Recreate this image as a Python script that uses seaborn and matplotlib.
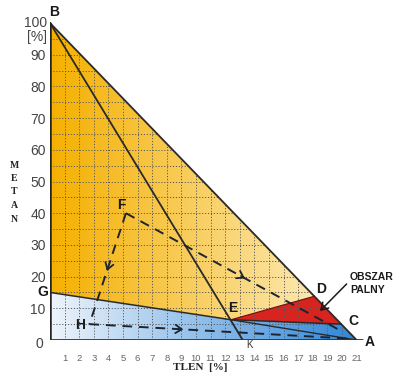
import numpy as np
import pandas as pd
import matplotlib
matplotlib.use("Agg")
import matplotlib.pyplot as plt
from matplotlib.patches import Polygon
from matplotlib.colors import LinearSegmentedColormap
import seaborn as sns

sns.set_style("white")
plt.rcParams['font.family'] = ['Liberation Sans', 'DejaVu Sans']

# ---- data (oxygen %, methane %) ----
pt_O = (0.0, 0.0)
pt_A = (21.0, 0.0)
pt_B = (0.0, 100.0)
pt_C = (19.95, 5.0)
pt_D = (18.1, 13.8)
pt_E = (12.4, 6.4)
pt_G = (0.0, 15.0)
pt_K = (13.2, 0.0)
pt_F = (5.2, 40.0)
pt_H = (2.7, 5.0)

path_FH_x = [5.2, 2.7]
path_FH_y = [40.0, 5.0]
path_H_x = [2.7, 20.6]
path_H_y = [5.0, 0.4]
path_F_x = [5.2, 19.8]
path_F_y = [40.0, 3.2]

xticks = list(range(1, 22))
yticks = [10, 20, 30, 40, 50, 60, 70, 80, 90]

W, H = 398, 377
fig = plt.figure(figsize=(W / 100, H / 100), dpi=100)
ax = fig.add_axes([50 / W, 1 - 340 / H, 340 / W, 330 / H])
ax.set_xlim(0, 340 / 14.6)
ax.set_ylim(0, 330 / 3.17)
for s in ax.spines.values():
    s.set_visible(False)

def grad_fill(poly_pts, c_left, c_right, x0=0, x1=21, y0=0, y1=100, c_top=None):
    n = 256
    cmap = LinearSegmentedColormap.from_list("g", [c_left, c_right])
    xs = np.linspace(0, 1, n)
    img = cmap(np.tile(xs, (n, 1)))
    if c_top is not None:
        top = np.array(matplotlib.colors.to_rgba(c_top))
        ys = np.linspace(0, 1, n)[:, None, None] ** 2
        img = img * (1 - ys * 0.0) 
    patch = Polygon(poly_pts, closed=True, facecolor='none', edgecolor='none')
    ax.add_patch(patch)
    im = ax.imshow(img, extent=(x0, x1, y0, y1), origin='lower', aspect='auto', zorder=1)
    im.set_clip_path(patch)

# yellow/orange region
grad_fill([pt_G, pt_B, pt_D, pt_E], '#F5B000', '#FCE9B4', 0, 18.5, 0, 100)
# blue region
grad_fill([pt_O, pt_G, pt_E, pt_C, pt_A], '#EEF4FB', '#2F87D8', 0, 21, 0, 15)
# red region
ax.add_patch(Polygon([pt_E, pt_D, pt_C], closed=True, facecolor='#D8231E', edgecolor='none', zorder=1.5))

# dotted grid clipped to triangle
tri = Polygon([pt_O, pt_B, pt_A], closed=True, facecolor='none', edgecolor='none')
ax.add_patch(tri)
for xv in range(1, 21):
    ln, = ax.plot([xv, xv], [0, 100], color='#5a5a5a', lw=0.7, ls=(0, (1.2, 1.8)), zorder=2)
    ln.set_clip_path(tri)
for yv in range(5, 100, 5):
    ln, = ax.plot([0, 21], [yv, yv], color='#5a5a5a', lw=0.7, ls=(0, (1.2, 1.8)), zorder=2)
    ln.set_clip_path(tri)

def seg(points, **kw):
    df = pd.DataFrame({'x': [p[0] for p in points], 'y': [p[1] for p in points]})
    sns.lineplot(data=df, x='x', y='y', sort=False, estimator=None, ax=ax, **kw)

# solid boundary lines
seg([pt_B, pt_A], color='#2a2a2a', lw=1.3, zorder=4)
seg([pt_B, pt_K], color='#2a2a2a', lw=1.3, zorder=4)
seg([pt_G, pt_E, pt_C], color='#2a2a2a', lw=1.1, zorder=4)
seg([pt_E, pt_A], color='#2a2a2a', lw=1.0, zorder=4)
seg([pt_E, pt_D], color='#6a1010', lw=0.8, zorder=4)
# axes
seg([(0, 0), (0, 100)], color='#222222', lw=1.8, zorder=5)
seg([(0, 0), (21.4, 0)], color='#333333', lw=2.0, zorder=5)

# dashed paths
dash = (0, (5, 3.5))
for xs_, ys_ in [(path_FH_x, path_FH_y), (path_H_x, path_H_y), (path_F_x, path_F_y)]:
    seg(list(zip(xs_, ys_)), color='#1c2430', lw=1.4, ls=dash, zorder=6)

def chevron(x0, y0, x1, y1, frac):
    xm = x0 + (x1 - x0) * frac
    ym = y0 + (y1 - y0) * frac
    dx = (x1 - x0) * 0.02
    dy = (y1 - y0) * 0.02
    ax.annotate('', xy=(xm + dx, ym + dy), xytext=(xm - dx, ym - dy),
                arrowprops=dict(arrowstyle='->,head_length=0.45,head_width=0.3', color='#1c2430', lw=1.3),
                zorder=7)

chevron(path_FH_x[0], path_FH_y[0], path_FH_x[1], path_FH_y[1], 0.5)
chevron(path_H_x[0], path_H_y[0], path_H_x[1], path_H_y[1], 0.35)
chevron(path_F_x[0], path_F_y[0], path_F_x[1], path_F_y[1], 0.55)

# ticks
ax.set_xticks(xticks)
ax.set_xticklabels([str(v) for v in xticks], fontsize=6.8, color='#666666')
ax.set_yticks(yticks)
ax.set_yticklabels([str(v) for v in yticks], fontsize=10, color='#444444')
ax.tick_params(axis='x', length=0, pad=10)
ax.tick_params(axis='y', length=0, pad=3)
ax.set_xlabel('')
ax.set_ylabel('')
ax.text(-0.2, 100, '100', ha='right', va='center', fontsize=10, color='#444444', clip_on=False)
ax.text(-0.2, 95.6, '[%]', ha='right', va='center', fontsize=10, color='#444444', clip_on=False)
ax.text(-0.45, -1.2, '0', ha='right', va='center', fontsize=10, color='#444444', clip_on=False)

# point labels
lab = dict(fontsize=10, fontweight='bold', color='#1a1a1a', ha='center', va='center', zorder=8, clip_on=False)
ax.text(0.25, 103.5, 'B', **lab)
ax.text(-0.5, 15.1, 'G', **lab)
ax.text(2.05, 4.7, 'H', **lab)
ax.text(4.9, 42.6, 'F', **lab)
ax.text(12.5, 10.0, 'E', **lab)
ax.text(18.6, 16.0, 'D', **lab)
ax.text(20.8, 6.0, 'C', **lab)
ax.text(21.9, -0.6, 'A', **lab)
ax.text(13.65, -1.6, 'K', fontsize=7, color='#333333', ha='center', va='center', clip_on=False)

ax.text(20.55, 20.0, 'OBSZAR', fontsize=7.5, fontweight='bold', color='#1a1a1a', ha='left', va='center')
ax.text(20.55, 15.8, 'PALNY', fontsize=7.5, fontweight='bold', color='#1a1a1a', ha='left', va='center')
ax.annotate('', xy=(18.35, 8.5), xytext=(20.45, 18.3),
            arrowprops=dict(arrowstyle='->,head_length=0.5,head_width=0.3', color='#1a1a1a', lw=1.1), zorder=8)

# axis titles
ax.text(10.3, -8.8, 'TLEN  [%]', fontsize=8, fontweight='bold', family=['Liberation Serif', 'DejaVu Serif'],
        color='#222222', ha='center', va='center', clip_on=False)
for i, ch in enumerate('METAN'):
    ax.text(-2.45, (340 - (165 + i * 13.5)) / 3.17, ch, fontsize=7, fontweight='bold',
            family=['Liberation Serif', 'DejaVu Serif'], color='#222222', ha='center', va='center', clip_on=False)

fig.savefig('out.png', dpi=100)
